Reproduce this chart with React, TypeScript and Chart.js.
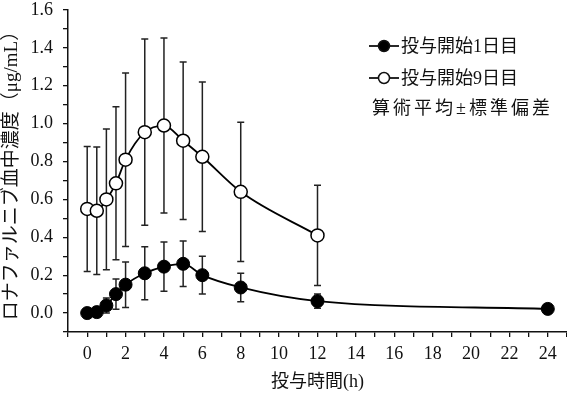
import React, { useEffect, useRef } from "react";
import { Chart, registerables } from "chart.js";

Chart.register(...registerables);

const timesDay1 = [0, 0.5, 1, 1.5, 2, 3, 4, 5, 6, 8, 12, 24];
const meanDay1 = [0.0, 0.005, 0.04, 0.1, 0.15, 0.21, 0.245, 0.26, 0.2, 0.135, 0.063, 0.022];
const sdDay1 = [0, 0.005, 0.04, 0.08, 0.12, 0.14, 0.13, 0.12, 0.1, 0.075, 0.038, 0.018];

const timesDay9 = [0, 0.5, 1, 1.5, 2, 3, 4, 5, 6, 8, 12];
const meanDay9 = [0.55, 0.54, 0.6, 0.685, 0.81, 0.955, 0.99, 0.91, 0.825, 0.64, 0.41];
const sdDay9 = [0.33, 0.337, 0.372, 0.404, 0.458, 0.492, 0.462, 0.416, 0.395, 0.368, 0.265];

const legendLabels = ["投与開始1日目", "投与開始9日目"];
const legendNote = "算術平均±標準偏差";
const xTitle = "投与時間(h)";
const yTitle = "ロナファルニブ血中濃度（μg/mL）";

const FONT = "'Liberation Serif', 'Noto Sans CJK JP', serif";

const errorBars = {
  id: "errorBars",
  beforeDatasetsDraw(chart: any) {
    const ctx = chart.ctx;
    const xs = chart.scales.x;
    const ys = chart.scales.y;
    const sets = [
      { t: timesDay1, m: meanDay1, s: sdDay1 },
      { t: timesDay9, m: meanDay9, s: sdDay9 },
    ];
    ctx.save();
    ctx.strokeStyle = "#222";
    ctx.lineWidth = 1.5;
    for (const set of sets) {
      set.t.forEach((t, i) => {
        if (!set.s[i]) return;
        const x = xs.getPixelForValue(t);
        const yTop = ys.getPixelForValue(set.m[i] + set.s[i]);
        const yBot = ys.getPixelForValue(Math.max(set.m[i] - set.s[i], -0.1));
        ctx.beginPath();
        ctx.moveTo(x, yTop);
        ctx.lineTo(x, yBot);
        ctx.moveTo(x - 3.5, yTop);
        ctx.lineTo(x + 3.5, yTop);
        ctx.moveTo(x - 3.5, yBot);
        ctx.lineTo(x + 3.5, yBot);
        ctx.stroke();
      });
    }
    ctx.restore();
  },
};

const customLegend = {
  id: "customLegend",
  afterDraw(chart: any) {
    const ctx = chart.ctx;
    ctx.save();
    ctx.font = "18px " + FONT;
    ctx.textBaseline = "middle";
    ctx.fillStyle = "#111";
    const rows = [46, 78];
    rows.forEach((y, i) => {
      ctx.strokeStyle = "#111";
      ctx.lineWidth = 1.8;
      ctx.beginPath();
      ctx.moveTo(369, y);
      ctx.lineTo(399, y);
      ctx.stroke();
      ctx.beginPath();
      ctx.arc(384, y, 5.5, 0, Math.PI * 2);
      ctx.fillStyle = i === 0 ? "#000" : "#fff";
      ctx.fill();
      ctx.lineWidth = 1.5;
      ctx.stroke();
      ctx.fillStyle = "#111";
      ctx.fillText(legendLabels[i], 401, y + 1);
    });
    (ctx as any).letterSpacing = "3px";
    ctx.fillText(legendNote, 372, 109);
    ctx.restore();
  },
};

export default function App() {
  const ref = useRef<HTMLCanvasElement>(null);
  useEffect(() => {
    document.body.style.margin = "0";
    const chart = new Chart(ref.current!, {
      type: "line",
      data: {
        datasets: [
          {
            label: legendLabels[0],
            data: timesDay1.map((t, i) => ({ x: t, y: meanDay1[i] })),
            borderColor: "#000",
            backgroundColor: "#000",
            borderWidth: 1.8,
            pointRadius: 6.5,
            pointBorderWidth: 1,
            pointBorderColor: "#000",
            pointBackgroundColor: "#000",
            cubicInterpolationMode: "monotone",
            clip: false,
          },
          {
            label: legendLabels[1],
            data: timesDay9.map((t, i) => ({ x: t, y: meanDay9[i] })),
            borderColor: "#000",
            backgroundColor: "#fff",
            borderWidth: 1.8,
            pointRadius: 6.5,
            pointBorderWidth: 1.5,
            pointBorderColor: "#000",
            pointBackgroundColor: "#fff",
            cubicInterpolationMode: "monotone",
            clip: false,
          },
        ],
      },
      options: {
        responsive: false,
        animation: false,
        devicePixelRatio: 1,
        layout: { autoPadding: false, padding: { top: 10, right: 0, left: 0, bottom: 0 } },
        plugins: {
          legend: { display: false },
          tooltip: { enabled: false },
        },
        scales: {
          x: {
            type: "linear",
            min: -1,
            max: 25,
            afterFit: (s: any) => {
              s.height = 64;
              s.paddingLeft = 0;
              s.paddingRight = 0;
            },
            ticks: {
              stepSize: 1,
              autoSkip: false,
              maxRotation: 0,
              padding: 6,
              color: "#111",
              font: { family: FONT, size: 18 },
              callback: (v: any) => {
                const n = Number(v);
                return n >= 0 && n <= 24 && n % 2 === 0 ? String(n) : "";
              },
            },
            grid: { drawOnChartArea: false, drawTicks: true, tickLength: 5, color: "#111", lineWidth: 1.3 },
            border: { display: true, color: "#111", width: 1.5 },
            title: {
              display: true,
              text: xTitle,
              color: "#111",
              font: { family: FONT, size: 18 },
              padding: { top: 0, bottom: 3 },
            },
          },
          y: {
            type: "linear",
            min: -0.1,
            max: 1.6,
            afterFit: (s: any) => {
              s.width = 68;
              s.paddingTop = 0;
              s.paddingBottom = 0;
            },
            afterBuildTicks: (s: any) => {
              const vals = [-0.1, 0, 0.1, 0.2, 0.3, 0.4, 0.5, 0.6, 0.7, 0.8, 0.9, 1.0, 1.1, 1.2, 1.3, 1.4, 1.5, 1.6];
              s.ticks = vals.map((v) => ({ value: v }));
            },
            ticks: {
              autoSkip: false,
              padding: 10,
              color: "#111",
              font: { family: FONT, size: 18 },
              callback: (v: any) => {
                const n = Math.round(Number(v) * 10);
                return n >= 0 && n % 2 === 0 ? (n / 10).toFixed(1) : "";
              },
            },
            grid: { drawOnChartArea: false, drawTicks: true, tickLength: 5, color: "#111", lineWidth: 1.3 },
            border: { display: true, color: "#111", width: 1.5 },
            title: {
              display: true,
              text: yTitle,
              color: "#111",
              font: { family: FONT, size: 19 },
              padding: { top: 1, bottom: 0 },
            },
          },
        },
      },
      plugins: [errorBars, customLegend],
    });
    return () => chart.destroy();
  }, []);
  return <canvas ref={ref} width={567} height={396} style={{ display: "block" }} />;
}
